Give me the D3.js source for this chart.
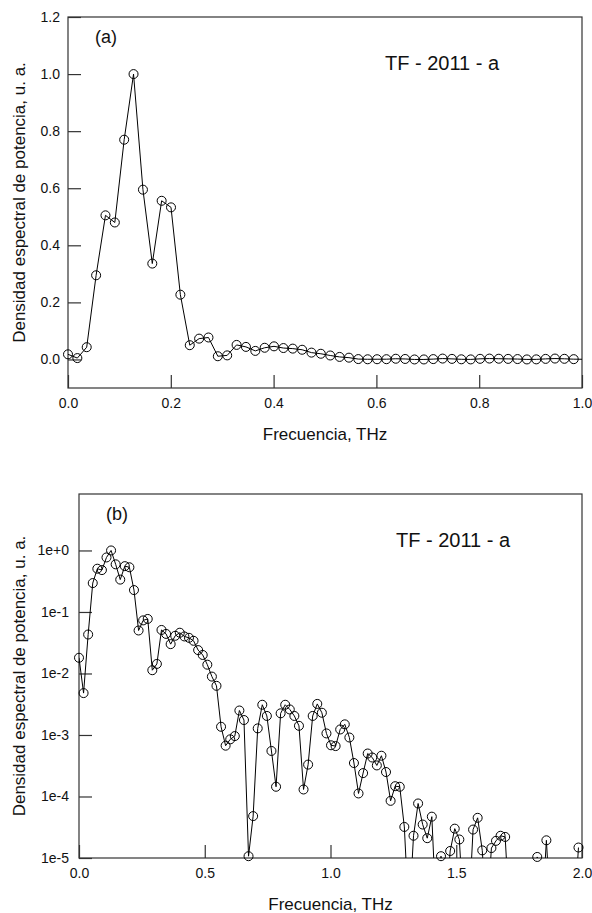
<!DOCTYPE html>
<html>
<head>
<meta charset="utf-8">
<script src="https://cdn.jsdelivr.net/npm/d3@7"></script>
<style>
  body { margin: 0; background: #fff; }
  svg { display: block; font-family: "Liberation Sans", Arial, sans-serif; }
</style>
</head>
<body>
<svg id="chart" width="592" height="913"></svg>
<script>
// frecuencias de los bins, THz (paso ~0.01822)
const freqs = [
  0.0000, 0.0182, 0.0364, 0.0547, 0.0729, 0.0911, 0.1093, 0.1275, 0.1458, 0.1640,
  0.1822, 0.2004, 0.2186, 0.2369, 0.2551, 0.2733, 0.2915, 0.3097, 0.3280, 0.3462,
  0.3644, 0.3826, 0.4008, 0.4191, 0.4373, 0.4555, 0.4737, 0.4919, 0.5102, 0.5284,
  0.5466, 0.5648, 0.5830, 0.6013, 0.6195, 0.6377, 0.6559, 0.6741, 0.6924, 0.7106,
  0.7288, 0.7470, 0.7652, 0.7835, 0.8017, 0.8199, 0.8381, 0.8563, 0.8746, 0.8928,
  0.9110, 0.9292, 0.9474, 0.9657, 0.9839, 1.0021, 1.0203, 1.0385, 1.0568, 1.0750,
  1.0932, 1.1114, 1.1296, 1.1479, 1.1661, 1.1843, 1.2025, 1.2207, 1.2390, 1.2572,
  1.2754, 1.2936, 1.3118, 1.3301, 1.3483, 1.3665, 1.3847, 1.4029, 1.4212, 1.4394,
  1.4576, 1.4758, 1.4940, 1.5123, 1.5305, 1.5487, 1.5669, 1.5851, 1.6034, 1.6216,
  1.6398, 1.6580, 1.6762, 1.6945, 1.7127, 1.7309, 1.7491, 1.7673, 1.7856, 1.8038,
  1.8220, 1.8402, 1.8584, 1.8767, 1.8949, 1.9131, 1.9313, 1.9495, 1.9678, 1.9860
];

// densidad espectral normalizada (valores < 1e-5 quedan fuera del eje log)
const power = [
  0.018, 0.0048, 0.043, 0.295, 0.505, 0.48, 0.77, 1.0, 0.595, 0.336,
  0.556, 0.533, 0.227, 0.050, 0.073, 0.077, 0.0113, 0.0143, 0.051, 0.044,
  0.030, 0.041, 0.046, 0.040, 0.038, 0.034, 0.024, 0.020, 0.0139, 0.0089,
  0.0063, 0.00136, 0.00067, 0.00085, 0.00096, 0.0025, 0.00175, 1.07e-5, 4.8e-5, 0.00128,
  0.0031, 0.00204, 0.00055, 0.000144, 0.00225, 0.0031, 0.0026, 0.00204, 0.00141, 0.00013,
  0.00033, 0.00204, 0.0032, 0.0023, 0.00106, 0.00068, 0.00066, 0.00123, 0.00149, 0.00091,
  0.00035, 0.000112, 0.00024, 0.0005, 0.00043, 0.00032, 0.00046, 0.00025, 0.000085, 0.000147,
  0.000144, 3.2e-5, 1e-6, 2.3e-5, 7.7e-5, 3.5e-5, 2.1e-5, 4.7e-5, 1e-6, 1.07e-5,
  1e-6, 1.3e-5, 3.0e-5, 2.0e-5, 1e-6, 1e-6, 2.9e-5, 4.5e-5, 1.33e-5, 1e-6,
  1.45e-5, 1.9e-5, 2.3e-5, 2.2e-5, 1e-6, 1e-6, 1e-6, 1e-6, 1e-6, 1e-6,
  1.04e-5, 1e-6, 1.94e-5, 1e-6, 1e-6, 1e-6, 1e-6, 1e-6, 1e-6, 1.48e-5
];

const xTicksA = [0, 0.2, 0.4, 0.6, 0.8, 1.0];
const yTicksA = [0, 0.2, 0.4, 0.6, 0.8, 1.0, 1.2];
const xTicksB = [0, 0.5, 1.0, 1.5, 2.0];
const yTicksB = [1e-5, 1e-4, 1e-3, 1e-2, 1e-1, 1];

const data = freqs.map((f, i) => ({ f: f, p: power[i] }));

const svg = d3.select("#chart");
const INK = "#111";
const AXIS = "#333";

function panel(cfg) {
  const { left, right, top, bottom, x, y, xTicks, yTicks, xFmt, yFmt, yPad, tag, id } = cfg;
  const g = svg.append("g");

  g.append("clipPath").attr("id", id)
    .append("rect")
    .attr("x", left).attr("y", top)
    .attr("width", right - left).attr("height", bottom - top);

  // --- ejes con ticks hacia adentro ---
  const ax = g.append("g")
    .attr("transform", `translate(0,${bottom})`)
    .call(d3.axisBottom(x).tickValues(xTicks).tickFormat(xFmt).tickSizeInner(-13).tickSizeOuter(0).tickPadding(10));
  const ay = g.append("g")
    .attr("transform", `translate(${left},0)`)
    .call(d3.axisLeft(y).tickValues(yTicks).tickFormat(yFmt).tickSizeInner(-13).tickSizeOuter(0).tickPadding(yPad));
  [ax, ay].forEach(a => {
    a.select(".domain").remove();
    a.selectAll("line").attr("stroke", AXIS).attr("stroke-width", 1.2);
    a.selectAll("text").attr("fill", INK).style("font-size", "14px")
      .style("font-family", "'Liberation Sans', Arial, sans-serif");
  });

  // --- marco ---
  g.append("rect")
    .attr("x", left).attr("y", top)
    .attr("width", right - left).attr("height", bottom - top)
    .attr("fill", "none").attr("stroke", AXIS).attr("stroke-width", 1.2);

  // --- línea + círculos ---
  const line = d3.line().x(d => x(d.f)).y(d => y(d.p));
  g.append("path")
    .datum(data)
    .attr("clip-path", `url(#${id})`)
    .attr("d", line)
    .attr("fill", "none")
    .attr("stroke", "#000")
    .attr("stroke-width", 1);

  const [x0, x1] = x.domain();
  const [y0, y1] = y.domain();
  g.selectAll(".pt")
    .data(data.filter(d => d.f >= x0 && d.f <= x1 && d.p >= y0 && d.p <= y1))
    .enter()
    .append("circle")
    .attr("cx", d => x(d.f))
    .attr("cy", d => y(d.p))
    .attr("r", 4.5)
    .attr("fill", "none")
    .attr("stroke", "#000")
    .attr("stroke-width", 1);

  // --- textos ---
  g.append("text")
    .attr("x", left + 27).attr("y", top + 26)
    .attr("fill", INK).style("font-size", "18px")
    .text(tag);

  g.append("text")
    .attr("x", left + 317).attr("y", top + 53)
    .attr("fill", INK).style("font-size", "20px")
    .text("TF - 2011 - a");

  g.append("text")
    .attr("x", (left + right) / 2).attr("y", bottom + 52)
    .attr("text-anchor", "middle")
    .attr("fill", INK).style("font-size", "17px")
    .text("Frecuencia, THz");

  g.append("text")
    .attr("transform", "rotate(-90)")
    .attr("x", -(top + bottom) / 2).attr("y", 25)
    .attr("text-anchor", "middle")
    .attr("fill", INK).style("font-size", "17px")
    .text("Densidad espectral de potencia, u. a.");
}

// (a) escala lineal
panel({
  id: "clipA", tag: "(a)",
  left: 68, right: 582, top: 17, bottom: 388,
  x: d3.scaleLinear().domain([0, 1]).range([68, 582]),
  y: d3.scaleLinear().domain([-0.1, 1.2]).range([388, 17]),
  xTicks: xTicksA, yTicks: yTicksA,
  xFmt: d3.format(".1f"), yFmt: d3.format(".1f"), yPad: 8
});

// (b) escala logarítmica
panel({
  id: "clipB", tag: "(b)",
  left: 79, right: 582, top: 494, bottom: 858,
  x: d3.scaleLinear().domain([0, 2]).range([79, 582]),
  y: d3.scaleLog().domain([1e-5, Math.pow(10, 0.918)]).range([858, 494]),
  xTicks: xTicksB, yTicks: yTicksB,
  xFmt: d3.format(".1f"),
  yFmt: d => { const e = Math.round(Math.log10(d)); return "1e" + (e >= 0 ? "+" : "") + e; },
  yPad: 10
});
</script>
</body>
</html>
